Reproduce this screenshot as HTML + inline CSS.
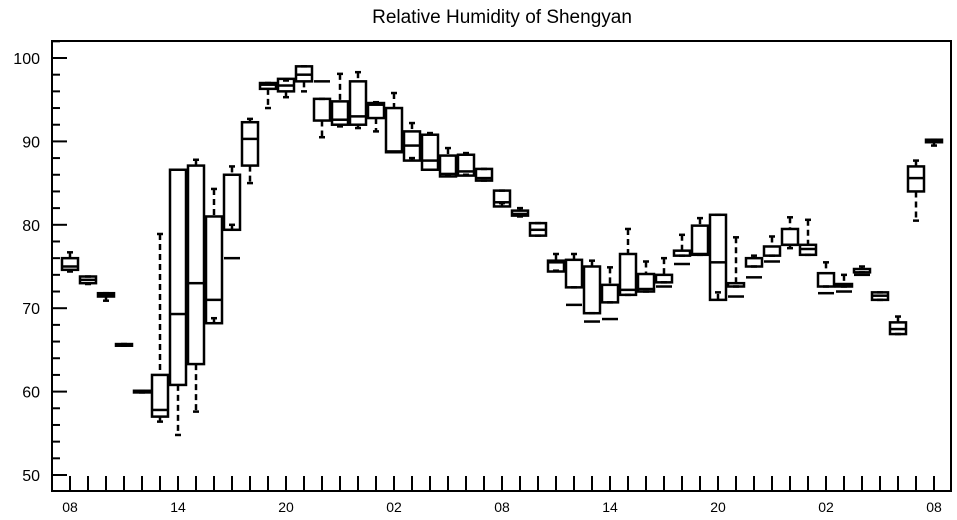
<!DOCTYPE html>
<html><head><meta charset="utf-8"><style>
body{margin:0;background:#fff}
svg{display:block;font-family:"Liberation Sans",sans-serif}
</style></head><body>
<svg id="chart" width="957" height="520">
<text x="502" y="23" text-anchor="middle" font-size="19">Relative Humidity of Shengyan</text>
<rect x="52" y="41" width="899" height="450" fill="none" stroke="#000" stroke-width="2"/>
<g id="axes"></g><g id="boxes"></g>
</svg>
<script>
const xLabels=["08","14","20","02","08","14","20","02","08"];
const yTicks=[50,60,70,80,90,100];
const mins=[74.4,72.9,70.9,65.5,59.9,56.4,54.8,57.6,68.8,80,85,94,95.3,96,90.5,91.8,91.6,91.2,88.7,88,86.6,86,86,85.3,82.6,81,78.7,74.5,72.5,69.4,70.7,71.6,72,73.1,76.3,76.4,71.9,72.6,75,76.3,77.2,76.4,72.6,72.6,74.3,71,66.9,80.5,89.5];
const q1s=[74.6,73,71.4,65.5,59.9,57,60.8,63.3,68.2,79.4,87.1,96.3,96,97.2,92.5,92,92,92.8,88.7,87.7,86.6,85.8,85.9,85.3,82.2,81.1,78.7,74.4,72.5,69.4,70.7,71.6,72,73.1,76.3,76.4,71,72.6,75,76.3,77.6,76.4,72.6,72.6,74.3,71,66.9,84,89.9];
const medians=[75,73.4,71.6,65.6,60,57.8,69.3,73,71,76,90.3,96.8,96.7,98,97.2,92.6,93,94.4,88.8,89.5,87.7,86.1,86.4,85.6,82.7,81.3,79.4,75.5,70.4,68.4,68.7,72.2,72.3,72.6,75.3,76.5,75.5,71.4,73.7,75.6,77.6,77.1,71.8,72,74,71.5,67.5,85.6,90];
const q3s=[76,73.8,71.8,65.7,60.1,62,86.6,87.1,81,86,92.3,97,97.5,99,95.1,94.8,97.2,94.6,94,91.2,90.8,88.3,88.4,86.7,84.1,81.7,80.2,75.7,75.8,75,72.8,76.5,74.1,74,76.9,79.9,81.2,73,76,77.4,79.5,77.6,74.2,72.9,74.7,71.9,68.3,87,90.2];
const maxs=[76.7,73.8,71.8,65.7,60.1,78.9,86.6,87.8,84.3,87,92.7,97,97.3,99,95.1,98.1,98.3,94.7,95.8,92.2,91,89.2,88.6,86.7,84.1,82,80.2,76.5,76.5,75.7,74.9,79.5,75.6,76,78.8,80.8,81.2,78.5,76.3,78.6,80.9,80.6,75.5,74,75,71.9,69,87.7,90.2];
const NS="http://www.w3.org/2000/svg";
const X0=70,DX=18,L=52,B=491;
function xs(i){return X0+i*DX;}
function ys(v){return 475-(v-50)*8.34;}
function mk(t,a,p){const e=document.createElementNS(NS,t);for(const k in a)e.setAttribute(k,a[k]);p.appendChild(e);return e;}
const ax=document.getElementById('axes'),bx=document.getElementById('boxes');
for(let v=50;v<=102;v+=2){const maj=v%10===0;
 const t=mk('line',{x1:L,x2:L+(maj?15:8),y1:ys(v),y2:ys(v),stroke:'#000','stroke-width':2},ax);
 
 }
yTicks.forEach(v=>{const t=mk('text',{x:40,y:ys(v)+6,'text-anchor':'end','font-size':16},ax);t.textContent=v;
 
 });
for(let i=0;i<mins.length;i++){const t=mk('line',{x1:xs(i),x2:xs(i),y1:B,y2:B-15,stroke:'#000','stroke-width':2},ax);
 
 }
xLabels.forEach((s,j)=>{const t=mk('text',{x:xs(j*6),y:512,'text-anchor':'middle','font-size':14},ax);t.textContent=s;
 
 });
const W=8;
for(let i=0;i<mins.length;i++){const x=xs(i);
 const g=mk('g',{stroke:'#000','stroke-width':2.5,fill:'none'},bx);
 
 
 mk('line',{x1:x,x2:x,y1:ys(maxs[i]),y2:ys(q3s[i]),'stroke-dasharray':'6,4'},g);
 mk('line',{x1:x,x2:x,y1:ys(q1s[i]),y2:ys(mins[i]),'stroke-dasharray':'6,4'},g);
 mk('line',{x1:x-3,x2:x+3,y1:ys(maxs[i]),y2:ys(maxs[i])},g);
 mk('line',{x1:x-3,x2:x+3,y1:ys(mins[i]),y2:ys(mins[i])},g);
 mk('rect',{x:x-W,y:ys(q3s[i]),width:2*W,height:Math.max(1,ys(q1s[i])-ys(q3s[i]))},g);
 mk('line',{x1:x-W,x2:x+W,y1:ys(medians[i]),y2:ys(medians[i])},g);
}
</script>
</body></html>
